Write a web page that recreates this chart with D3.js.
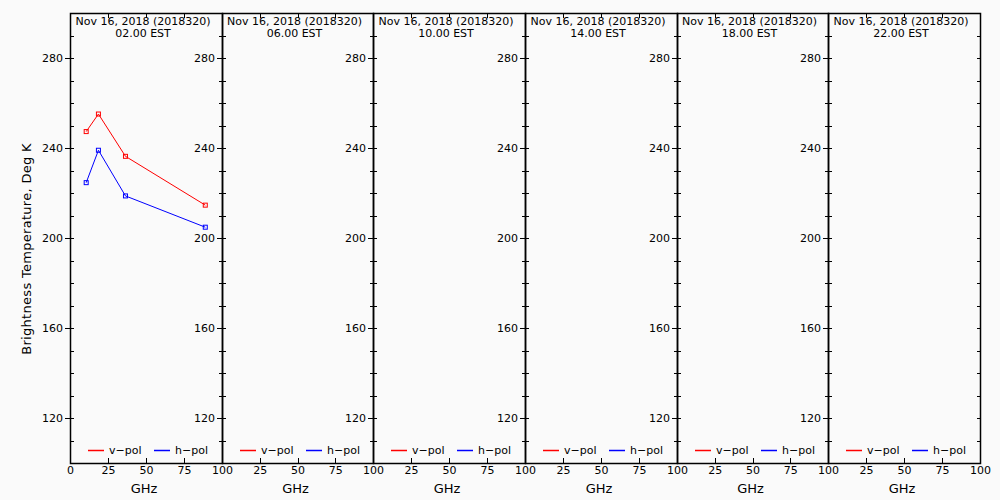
<!DOCTYPE html>
<html>
<head>
<meta charset="utf-8">
<script src="https://cdn.jsdelivr.net/npm/d3@7"></script>
<style>
  body { margin: 0; background: #fafafa; }
  svg { display: block; background: #fafafa; }
  text { font-family: "DejaVu Sans", sans-serif; fill: #000; }
</style>
</head>
<body>
<div id="chart"></div>
<script>
// data
const dateLabel = 'Nov 16, 2018 (2018320)';
const timeLabels = ['02.00 EST', '06.00 EST', '10.00 EST', '14.00 EST', '18.00 EST', '22.00 EST'];
const freqs = [10.65, 18.7, 36.5, 89.0];
const vpol = [247.3, 255.1, 236.3, 214.6];
const hpol = [224.6, 239.0, 218.7, 204.8];
// only the first time slot has observations
const vpolByPanel = [vpol, [], [], [], [], []];
const hpolByPanel = [hpol, [], [], [], [], []];
const xTicks = [0, 25, 50, 75, 100];
const yTicks = [120, 160, 200, 240, 280];

const W = 1000, H = 500;
const plotTop = 13, plotBottom = 463;

const svg = d3.select('#chart').append('svg')
  .attr('width', W).attr('height', H);

const panel = d3.scaleBand()
  .domain(d3.range(timeLabels.length))
  .range([70, 980]);

const y = d3.scaleLinear().domain([100, 300]).range([plotBottom, plotTop]);

// y axis title
svg.append('text')
  .attr('transform', `translate(31,${(plotTop + plotBottom) / 2 + 11}) rotate(-90)`)
  .attr('text-anchor', 'middle')
  .style('font-size', '13px')
  .style('letter-spacing', '0.3px')
  .text('Brightness Temperature, Deg K');

timeLabels.forEach((t, i) => {
  const x0 = Math.round(panel(i));
  const x1 = Math.round(panel(i) + panel.bandwidth());
  const x = d3.scaleLinear().domain([0, 100]).range([x0, x1]);
  const g = svg.append('g').attr('class', 'panel');

  // bottom axis, ticks pointing up; the 0 of later panels sits under the previous 100
  const xb = g.append('g')
    .attr('transform', `translate(0,${plotBottom})`)
    .call(d3.axisBottom(x).tickValues(xTicks).tickSize(-5).tickPadding(3)
      .tickFormat(d => (d === 0 && i > 0) ? '' : d));
  xb.selectAll('text').style('font-size', '11px');
  // top axis ticks, no labels
  g.append('g')
    .attr('transform', `translate(0,${plotTop})`)
    .call(d3.axisTop(x).tickValues(xTicks).tickSize(-5).tickFormat(''));

  // left axis: minor ticks inside, major ticks crossing, labels outside
  g.append('g')
    .attr('transform', `translate(${x0},0)`)
    .call(d3.axisRight(y).tickValues(d3.range(100, 301, 10)).tickSize(4).tickFormat(''));
  const yl = g.append('g')
    .attr('transform', `translate(${x0},0)`)
    .call(d3.axisLeft(y).tickValues(yTicks).tickSize(5).tickPadding(2));
  yl.selectAll('text').style('font-size', '11px');
  // right axis minor ticks
  g.append('g')
    .attr('transform', `translate(${x1},0)`)
    .call(d3.axisLeft(y).tickValues(d3.range(100, 301, 10)).tickSize(3).tickFormat(''));

  g.selectAll('.domain').remove();
  g.selectAll('line').attr('stroke', '#000').attr('shape-rendering', 'crispEdges');

  g.append('rect')
    .attr('x', x0 + 0.5).attr('y', plotTop + 0.5)
    .attr('width', x1 - x0).attr('height', plotBottom - plotTop)
    .attr('fill', 'none').attr('stroke', '#000').attr('stroke-width', 1.5);

  g.append('text')
    .attr('x', (x0 + x1) / 2 - 2).attr('y', 493)
    .attr('text-anchor', 'middle')
    .style('font-size', '13px')
    .text('GHz');

  // titles
  g.append('text')
    .attr('x', (x0 + x1) / 2 - 3).attr('y', 25)
    .attr('text-anchor', 'middle')
    .style('font-size', '11px')
    .text(dateLabel);
  g.append('text')
    .attr('x', (x0 + x1) / 2 - 3).attr('y', 37)
    .attr('text-anchor', 'middle')
    .style('font-size', '11px')
    .text(t);

  // series
  const series = [
    { vals: vpolByPanel[i], color: '#ff0000' },
    { vals: hpolByPanel[i], color: '#0000ff' }
  ];
  series.forEach(s => {
    const pts = s.vals.map((v, k) => [freqs[k], v]);
    if (!pts.length) return;
    g.append('path')
      .datum(pts)
      .attr('fill', 'none')
      .attr('stroke', s.color)
      .attr('stroke-width', 1)
      .attr('d', d3.line().x(d => x(d[0])).y(d => y(d[1])));
    g.selectAll(null)
      .data(pts)
      .enter()
      .append('rect')
      .attr('x', d => x(d[0]) - 2)
      .attr('y', d => y(d[1]) - 2)
      .attr('width', 4).attr('height', 4)
      .attr('fill', 'none')
      .attr('stroke', s.color);
  });

  // legend
  const legend = [
    { label: 'v\u2212pol', color: '#ff0000', at: 12 },
    { label: 'h\u2212pol', color: '#0000ff', at: 56 }
  ];
  legend.forEach(l => {
    const lx = x0 + l.at * 1.5;
    g.append('line')
      .attr('x1', lx).attr('x2', lx + 16)
      .attr('y1', 450.5).attr('y2', 450.5)
      .attr('stroke', l.color).attr('stroke-width', 1.5);
    g.append('text')
      .attr('x', lx + 21).attr('y', 454)
      .style('font-size', '11px')
      .text(l.label);
  });
});
</script>
</body>
</html>
